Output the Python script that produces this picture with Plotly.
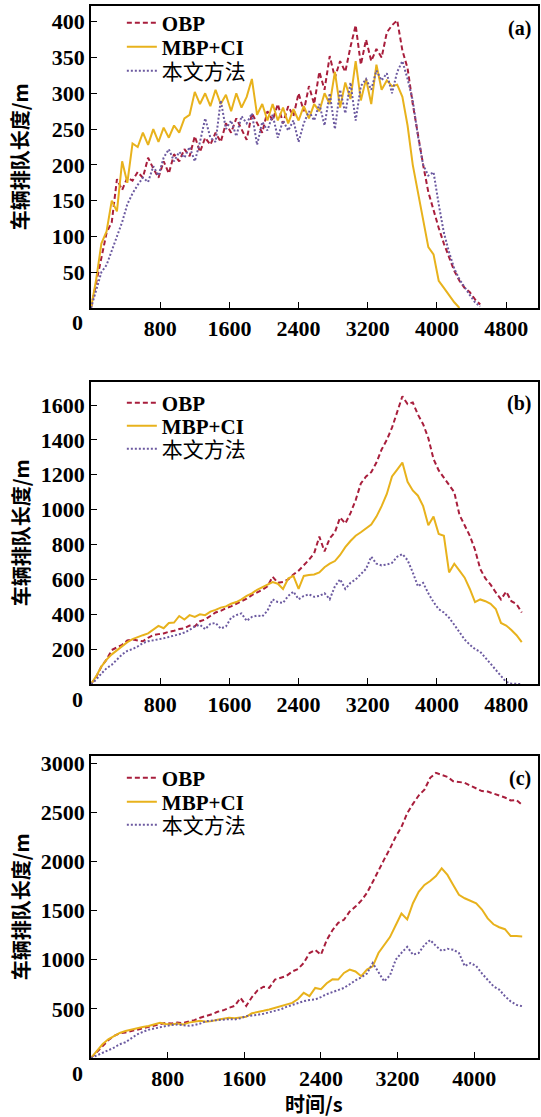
import plotly.graph_objects as go

STEP = 60  # seconds between samples

# ---------------- panel (a) ----------------
a_obp = [0, 35, 70, 105, 120, 180, 165, 182, 178, 190, 182, 210, 195, 182, 205, 188, 215, 205, 222, 212,
         240, 218, 238, 228, 245, 232, 258, 245, 265, 250, 235, 272, 258, 245, 275, 262, 285, 258, 282, 268,
         300, 275, 310, 285, 330, 305, 352, 322, 345, 330, 365, 395, 340, 375, 345, 362, 350, 385, 395, 402,
         360, 335, 285, 240, 200, 162, 135, 112, 90, 72, 52, 38, 28, 22, 12, 5]
a_mbp = [0, 40, 90, 107, 150, 135, 205, 175, 230, 225, 245, 228, 250, 232, 252, 238, 255, 245, 265, 270,
         302, 285, 300, 282, 305, 285, 298, 275, 300, 280, 295, 320, 270, 285, 262, 285, 262, 280, 258, 278,
         262, 282, 265, 285, 275, 300, 285, 330, 280, 315, 292, 345, 290, 320, 285, 340, 305, 318, 310, 312,
         295, 255, 200, 160, 125, 85, 75, 38, 28, 18, 8, 0]
a_our = [0, 25, 50, 60, 80, 100, 120, 145, 160, 172, 182, 176, 198, 185, 210, 222, 205, 218, 210, 225,
         205, 232, 265, 238, 232, 290, 250, 262, 240, 268, 258, 272, 228, 260, 248, 270, 238, 262, 248, 262,
         232, 258, 275, 262, 285, 255, 300, 250, 305, 272, 315, 262, 310, 320, 305, 332, 318, 328, 300, 330,
         345, 320, 290, 240, 200, 185, 190, 145, 105, 78, 55, 40, 28, 18, 8, 2]

# ---------------- panel (b) ----------------
b_obp = [0, 40, 100, 140, 195, 210, 225, 250, 255, 250, 245, 265, 280, 286, 290, 300, 305, 315, 320, 335,
         330, 360, 370, 390, 410, 420, 435, 445, 460, 475, 490, 510, 525, 540, 560, 615, 580, 585, 600, 628,
         650, 680, 712, 750, 845, 760, 835, 870, 955, 920, 980, 1055, 1150, 1190, 1215, 1270, 1345, 1400, 1470, 1560,
         1650, 1605, 1615, 1545, 1490, 1410, 1290, 1225, 1185, 1140, 1100, 970, 910, 850, 770, 660, 605, 570, 525, 485,
         530, 475, 458, 410]
b_mbp = [0, 45, 100, 140, 170, 195, 220, 240, 257, 270, 280, 290, 310, 333, 320, 350, 352, 390, 370, 395,
         385, 400, 395, 415, 425, 438, 445, 460, 470, 485, 505, 520, 540, 555, 570, 585, 575, 545, 605, 620,
         545, 620, 625, 628, 640, 670, 690, 705, 740, 785, 820, 850, 870, 890, 914, 960, 1020, 1090, 1190, 1230,
         1270, 1160, 1110, 1080, 1020, 910, 960, 860, 850, 640, 690, 650, 610, 545, 470, 485, 475, 460, 430, 350,
         335, 310, 280, 240]
b_our = [0, 25, 60, 90, 110, 140, 170, 190, 200, 215, 235, 245, 250, 257, 262, 270, 276, 285, 295, 310,
         330, 340, 314, 345, 350, 318, 330, 380, 395, 405, 362, 385, 392, 388, 420, 485, 470, 465, 505, 530,
         486, 505, 514, 500, 505, 520, 486, 560, 600, 545, 580, 600, 630, 660, 730, 690, 680, 685, 695, 730,
         745, 710, 640, 560, 580, 520, 470, 429, 410, 380, 340, 295, 255, 225, 200, 185, 150, 120, 80, 50,
         12, 2, 0, 0]

# ---------------- panel (c) ----------------
c_obp = [0, 60, 125, 180, 225, 250, 260, 275, 290, 300, 320, 330, 345, 358, 350, 360, 355, 370, 385, 410,
         426, 445, 470, 485, 510, 530, 612, 530, 620, 690, 725, 713, 798, 815, 835, 880, 905, 966, 1068, 1100,
         1051, 1200, 1300, 1375, 1406, 1490, 1540, 1600, 1680, 1790, 1910, 2020, 2130, 2250, 2350, 2490, 2585, 2670, 2730, 2850,
         2900, 2880, 2860, 2815, 2807, 2800, 2770, 2740, 2715, 2710, 2690, 2672, 2650, 2620, 2625, 2575]
c_mbp = [0, 70, 140, 190, 225, 255, 275, 290, 305, 315, 325, 340, 358, 345, 342, 350, 340, 360, 372, 378,
         370, 375, 390, 400, 410, 405, 409, 420, 455, 465, 480, 494, 510, 527, 540, 561, 600, 663, 630, 713,
         700, 760, 800, 798, 865, 900, 880, 832, 899, 933, 1068, 1150, 1230, 1350, 1470, 1410, 1574, 1690, 1760, 1800,
         1850, 1929, 1862, 1760, 1660, 1625, 1600, 1574, 1510, 1420, 1360, 1330, 1310, 1240, 1240, 1237]
c_our = [0, 25, 50, 80, 105, 140, 160, 200, 240, 265, 288, 300, 315, 325, 335, 341, 335, 328, 335, 350,
         375, 380, 392, 390, 395, 392, 405, 426, 430, 440, 450, 465, 477, 495, 520, 540, 560, 578, 590, 595,
         620, 650, 670, 690, 713, 750, 790, 820, 860, 966, 870, 780, 840, 1000, 1070, 1130, 1051, 1068, 1150, 1200,
         1140, 1090, 1110, 1102, 1068, 935, 966, 935, 860, 798, 730, 696, 629, 575, 540, 527]

x_ticks_ab = [800, 1600, 2400, 3200, 4000, 4800]
x_ticks_c = [800, 1600, 2400, 3200, 4000]
y_ticks_a = [50, 100, 150, 200, 250, 300, 350, 400]
y_ticks_b = [200, 400, 600, 800, 1000, 1200, 1400, 1600]
y_ticks_c = [500, 1000, 1500, 2000, 2500, 3000]
panel_labels = ["(a)", "(b)", "(c)"]
series_names = ["<b>OBP</b>", "<b>MBP+CI</b>", "本文方法"]
y_title = "<b>车辆排队长度/m</b>"
x_title = "<b>时间/s</b>"


def times(vals):
    return [i * STEP for i in range(len(vals))]


COL_OBP = "#a81e3c"
COL_MBP = "#e8b21c"
COL_OUR = "#6c5aa0"

SERIF = "Liberation Serif"
CJK = "Noto Sans CJK SC"

H = 1117
top_px, bot_px = 6, 59
plot_h = H - top_px - bot_px


def py(pix):
    """pixel row of the page -> paper fraction"""
    return (1058 - pix) / plot_h


fig = go.Figure()
panels = [
    (a_obp, a_mbp, a_our, "x", "y", [23, 47, 71]),
    (b_obp, b_mbp, b_our, "x2", "y2", [403, 426, 449]),
    (c_obp, c_mbp, c_our, "x3", "y3", [778, 802, 825]),
]
legend_layout = {}
styles = [dict(color=COL_OBP, width=2, dash="5px,3px"),
          dict(color=COL_MBP, width=2),
          dict(color=COL_OUR, width=2, dash="2px,2px")]
k = 0
for obp, mbp, our, xa, ya, rows in panels:
    for j, vals in enumerate([obp, mbp, our]):
        k += 1
        lg = "legend" if k == 1 else f"legend{k}"
        fig.add_trace(go.Scatter(x=times(vals), y=vals, mode="lines", name=series_names[j],
                                 line=styles[j], xaxis=xa, yaxis=ya, legend=lg))
        legend_layout[lg] = dict(font=dict(family=f"{SERIF}, {CJK}", size=21, color="black"),
                                 bgcolor="rgba(0,0,0,0)", xanchor="left", yanchor="middle",
                                 x=0.069, y=py(rows[j]), itemwidth=30)

tickfont = dict(family=SERIF, size=22, color="black", weight="bold")
axis_common = dict(showline=True, linecolor="black", linewidth=1.5, mirror=True,
                   ticks="inside", ticklen=6, tickwidth=1.3, tickcolor="black",
                   showgrid=False, zeroline=False, tickfont=tickfont)


def dom(top, bottom):
    return [py(bottom), py(top)]


fig.update_layout(
    width=541, height=H,
    margin=dict(l=91, r=1, t=top_px, b=bot_px),
    paper_bgcolor="white", plot_bgcolor="white",
    xaxis=dict(axis_common, domain=[0, 1], range=[0, 5168], tickvals=x_ticks_ab, anchor="y"),
    yaxis=dict(axis_common, domain=dom(6, 308), range=[0, 422], tickvals=y_ticks_a, anchor="x"),
    xaxis2=dict(axis_common, domain=[0, 1], range=[0, 5168], tickvals=x_ticks_ab, anchor="y2"),
    yaxis2=dict(axis_common, domain=dom(382, 684), range=[0, 1732], tickvals=y_ticks_b, anchor="x2"),
    xaxis3=dict(axis_common, domain=[0, 1], range=[0, 4665], tickvals=x_ticks_c, anchor="y3"),
    yaxis3=dict(axis_common, domain=dom(756, 1058), range=[0, 3072], tickvals=y_ticks_c, anchor="x3"),
    showlegend=True,
    **legend_layout,
)

annotations = []
for i, (xa, ya) in enumerate([("x", "y"), ("x2", "y2"), ("x3", "y3")]):
    annotations.append(dict(text=f"<b>{panel_labels[i]}</b>", xref=f"{xa} domain", yref=f"{ya} domain",
                            x=1, y=1, xanchor="right", yanchor="middle", xshift=-5, yshift=-22,
                            showarrow=False, font=dict(family=SERIF, size=20, color="black")))
    annotations.append(dict(text="<b>0</b>", xref=f"{xa} domain", yref=f"{ya} domain",
                            x=0, y=0, xanchor="center", yanchor="middle", xshift=-14, yshift=-15,
                            showarrow=False, font=dict(family=SERIF, size=22, color="black")))
    annotations.append(dict(text=y_title, xref="paper", yref=f"{ya} domain",
                            x=(20 - 91) / 449, y=0.5, xanchor="center", yanchor="middle",
                            textangle=-90, showarrow=False,
                            font=dict(family=f"{CJK}, {SERIF}", size=20, color="black")))
annotations.append(dict(text=x_title, xref="paper", yref="paper",
                        x=(315 - 91) / 449, y=py(1103), xanchor="center", yanchor="middle",
                        showarrow=False, font=dict(family=f"{CJK}, {SERIF}", size=20, color="black")))
fig.update_layout(annotations=annotations)

fig.write_html("out.html", config={"displayModeBar": False},
               post_script="document.body.style.margin='0';document.body.style.overflow='hidden';")
